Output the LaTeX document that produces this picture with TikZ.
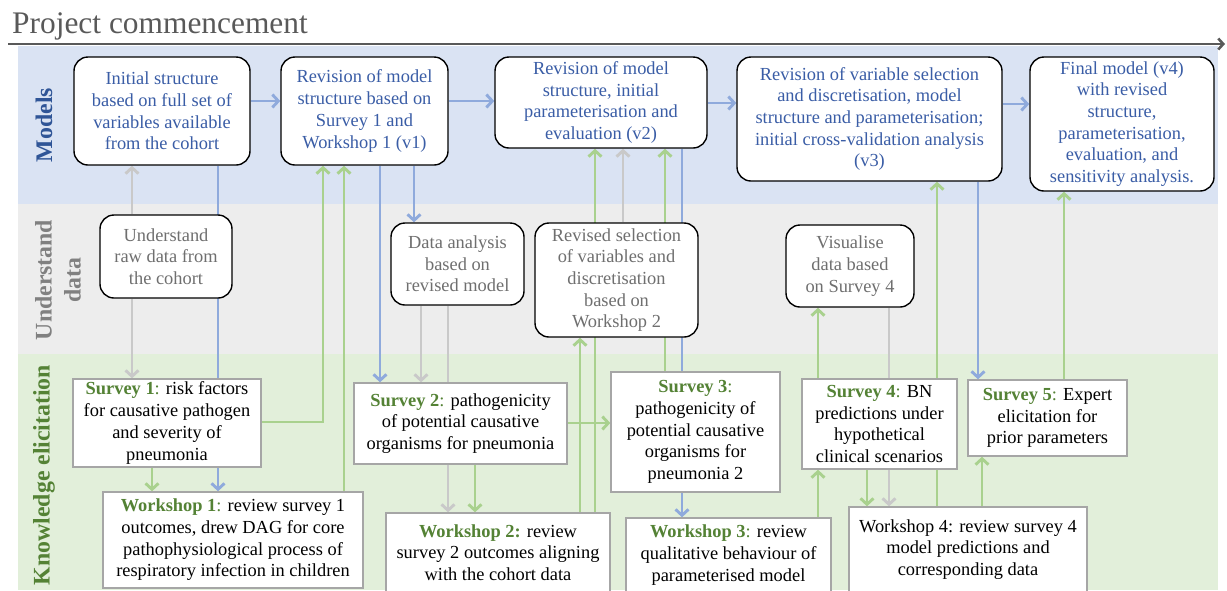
\documentclass[tikz,border=0pt]{standalone}
\usepackage{fontspec}
\setmainfont{Liberation Serif}
\usepackage{xcolor}
\usetikzlibrary{arrows.meta,calc}
\pgfdeclarelayer{bandlayer}
\pgfdeclarelayer{edgelayer}
\pgfsetlayers{bandlayer,edgelayer,main}
\definecolor{bandblue}{HTML}{DAE3F3}
\definecolor{bandgray}{HTML}{EDEDED}
\definecolor{bandgreen}{HTML}{E2EFDA}
\definecolor{edgeblue}{HTML}{8FAADC}
\definecolor{edgegreen}{HTML}{A9D18E}
\definecolor{edgegray}{HTML}{C9C9C9}
\definecolor{modeltext}{HTML}{3A5DA6}
\definecolor{modellabel}{HTML}{2F5597}
\definecolor{datatext}{HTML}{6F6F6F}
\definecolor{datalabel}{HTML}{808080}
\definecolor{kgreen}{HTML}{548235}
\definecolor{kborder}{HTML}{A6A6A6}
\definecolor{titlegray}{HTML}{595959}
\newcommand{\elic}[1]{{\color{kgreen}\textbf{#1}:}}
\tikzset{
  boxfont/.style={font=\fontsize{18.4}{21.7}\selectfont},
  modelbox/.style={boxfont, draw=black, line width=1.4pt, rounded corners=14pt, fill=white, text=modeltext, align=center, inner sep=0pt},
  databox/.style={modelbox, text=datatext},
  elicbox/.style={boxfont, draw=kborder, line width=1.4pt, fill=white, text=black, align=center, inner sep=0pt},
  lanelabel/.style={rotate=90, align=center, inner sep=0pt, font=\bfseries\fontsize{23.8}{29}\selectfont},
  conn/.style={line width=2.9pt, -{Straight Barb[length=6pt,width=13pt]}},
  blueconn/.style={conn, color=edgeblue},
  greenconn/.style={conn, color=edgegreen},
  grayconn/.style={conn, color=edgegray}
}
\begin{document}
\begin{tikzpicture}[x=1pt,y=-1pt]
\useasboundingbox (0,0) rectangle (1227,590);
\begin{pgfonlayer}{bandlayer}
\fill[bandblue] (18,46) rectangle (1218,204);
\fill[bandgray] (18,204) rectangle (1218,354);
\fill[bandgreen] (18,354) rectangle (1218,590);
\end{pgfonlayer}
\node[anchor=base west, inner sep=0pt, text=titlegray, font=\fontsize{31.4}{36}\selectfont] (title) at (12,33) {Project commencement};
\coordinate (t0) at (8,44);
\coordinate (t1) at (1225,44);
\draw[titlegray, line width=2.6pt, -{Straight Barb[length=5pt,width=11pt]}] (t0) -- (t1);
\node[lanelabel, text=modellabel] (Lm) at (44,125) {Models};
\node[lanelabel, text=datalabel] (Ld) at (58,280) {Understand\\data};
\node[lanelabel, text=kgreen] (Lk) at (44,475) {Knowledge elicitation};
\node[modelbox, minimum width=176pt, minimum height=108pt] (M0) at (162,111) {Initial structure\\based on full set of\\variables available\\from the cohort};
\node[modelbox, minimum width=167pt, minimum height=108pt] (M1) at (364.5,111) {Revision of model\\structure based on\\Survey 1 and\\Workshop 1 (v1)};
\node[modelbox, minimum width=212pt, minimum height=91pt] (M2) at (601,102.5) {Revision of model\\structure, initial\\parameterisation and\\evaluation (v2)};
\node[modelbox, minimum width=265pt, minimum height=124pt] (M3) at (869.5,119) {Revision of variable selection\\and discretisation, model\\structure and parameterisation;\\initial cross-validation analysis\\(v3)};
\node[modelbox, minimum width=184pt, minimum height=134pt] (M4) at (1122,124) {Final model (v4)\\with revised\\structure,\\parameterisation,\\evaluation, and\\sensitivity analysis.};
\node[databox, minimum width=132pt, minimum height=83pt] (D0) at (166,256.5) {Understand\\raw data from\\the cohort};
\node[databox, minimum width=133pt, minimum height=82pt] (D1) at (457.5,264) {Data analysis\\based on\\revised model};
\node[databox, minimum width=163pt, minimum height=114pt] (D2) at (616.5,280) {Revised selection\\of variables and\\discretisation\\based on\\Workshop 2};
\node[databox, minimum width=128pt, minimum height=82pt] (D3) at (850,266) {Visualise\\data based\\on Survey 4};
\node[elicbox, minimum width=188pt, minimum height=88pt] (K1) at (167,423) {\elic{Survey 1} risk factors\\for causative pathogen\\and severity of\\pneumonia};
\node[elicbox, minimum width=260pt, minimum height=96pt] (W1) at (233,540) {\elic{Workshop 1} review survey 1\\outcomes, drew DAG for core\\pathophysiological process of\\respiratory infection in children};
\node[elicbox, minimum width=213pt, minimum height=81pt] (K2) at (460.5,423.5) {\elic{Survey 2} pathogenicity\\of potential causative\\organisms for pneumonia};
\node[elicbox, minimum width=224pt, minimum height=79pt] (W2) at (498,552.5) {{\color{kgreen}\textbf{Workshop 2:}} review\\survey 2 outcomes aligning\\with the cohort data};
\node[elicbox, minimum width=169pt, minimum height=120pt] (K3) at (695.5,432) {\elic{Survey 3}\\pathogenicity of\\potential causative\\organisms for\\pneumonia 2};
\node[elicbox, minimum width=205pt, minimum height=74pt] (W3) at (728.5,555) {\elic{Workshop 3} review\\qualitative behaviour of\\parameterised model};
\node[elicbox, minimum width=155pt, minimum height=90pt] (K4) at (879.5,424) {\elic{Survey 4} BN\\predictions under\\hypothetical\\clinical scenarios};
\node[elicbox, minimum width=238pt, minimum height=85pt] (W4) at (968,549.5) {Workshop 4: review survey 4\\model predictions and\\corresponding data};
\node[elicbox, minimum width=159pt, minimum height=76pt] (K5) at (1047.5,418) {\elic{Survey 5} Expert\\elicitation for\\prior parameters};
\begin{pgfonlayer}{edgelayer}
\path[blueconn]
(M0.east |- 0,101) edge (M1.west |- 0,101)
(M1.east |- 0,101) edge (M2.west |- 0,101)
(M2.east |- 0,103) edge (M3.west |- 0,103)
(M3.east |- 0,104) edge (M4.west |- 0,104)
(218,0 |- M0.south) edge (218,0 |- W1.north)
(380,0 |- M1.south) edge (380,0 |- K2.north)
(414,0 |- M1.south) edge (414,0 |- D1.north)
(682,0 |- M2.south) edge (682,0 |- W3.north)
(978,0 |- M3.south) edge (978,0 |- K5.north);
\path[grayconn]
(132,0 |- D0.north) edge (132,0 |- M0.south)
(132,0 |- D0.south) edge (132,0 |- K1.north)
(421,0 |- D1.south) edge (421,0 |- K2.north)
(448,0 |- D1.south) edge (448,0 |- W2.north)
(623,0 |- D2.north) edge (623,0 |- M2.south)
(889,0 |- D3.south) edge (889,0 |- W4.north);
\path[greenconn]
(152,0 |- K1.south) edge (152,0 |- W1.north)
(344,0 |- W1.north) edge (344,0 |- M1.south)
(475,0 |- K2.south) edge (475,0 |- W2.north)
(K2.east |- 0,423) edge (K3.west |- 0,423)
(580,0 |- W2.north) edge (580,0 |- D2.south)
(595,0 |- W2.north) edge (595,0 |- M2.south)
(665,0 |- K3.north) edge (665,0 |- M2.south)
(818,0 |- W3.north) edge (818,0 |- K4.south)
(818,0 |- K4.north) edge (818,0 |- D3.south)
(867,0 |- K4.south) edge (867,0 |- W4.north)
(937,0 |- W4.north) edge (937,0 |- M3.south)
(982,0 |- W4.north) edge (982,0 |- K5.south)
(1064,0 |- K5.north) edge (1064,0 |- M4.south);
\draw[greenconn] (K1.east |- 0,422) -| (323,0 |- M1.south);
\end{pgfonlayer}
\end{tikzpicture}
\end{document}
